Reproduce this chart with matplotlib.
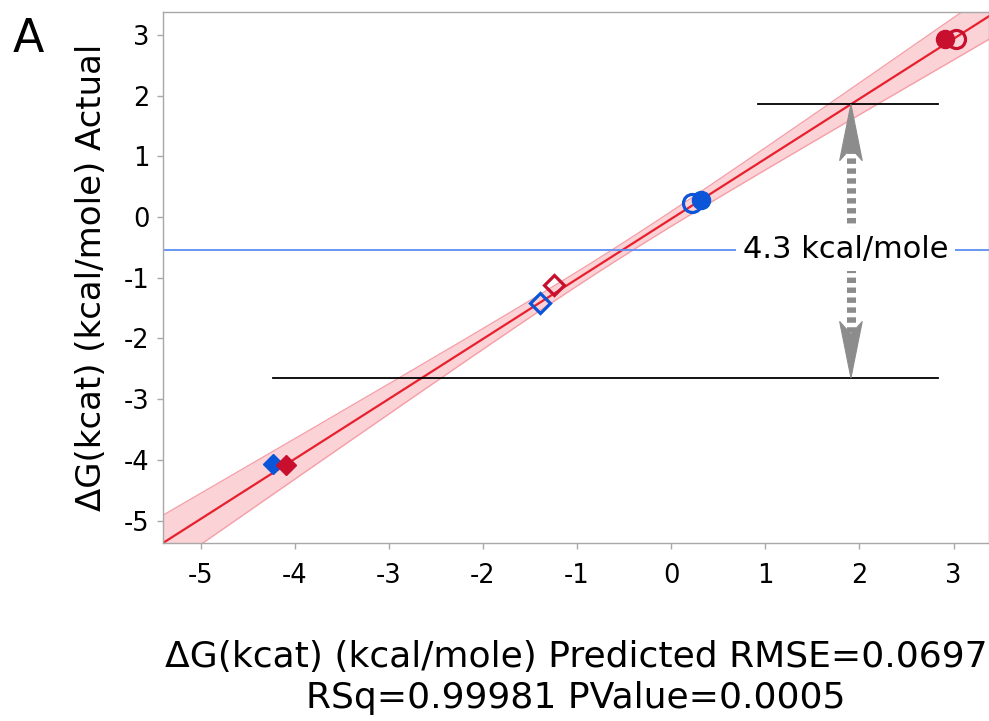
import matplotlib
matplotlib.use('Agg')
import matplotlib.pyplot as plt
import numpy as np

plt.rcParams['font.family'] = ['DejaVu Sans']

# ─── Data ──────────────────────────────────────────────────────────────────
red_fill_circle_x = [2.91]
red_fill_circle_y = [2.93]
red_open_circle_x = [3.03]
red_open_circle_y = [2.93]
blue_open_circle_x = [0.22]
blue_open_circle_y = [0.23]
blue_fill_circle_x = [0.32]
blue_fill_circle_y = [0.29]
blue_open_diamond_x = [-1.39]
blue_open_diamond_y = [-1.41]
red_open_diamond_x = [-1.24]
red_open_diamond_y = [-1.12]
blue_fill_diamond_x = [-4.23]
blue_fill_diamond_y = [-4.06]
red_fill_diamond_x = [-4.09]
red_fill_diamond_y = [-4.08]

fit_slope = 0.989
fit_icept = -0.029
band_hw_center = 0.11     # half width of conf. band at its narrowest
band_hw_slope = 0.092
band_xm = -0.58

upper_ref = 1.86          # black reference lines
lower_ref = -2.65
upper_ref_x = (0.92, 2.83)
lower_ref_x = (-4.23, 2.83)
blue_ref = -0.54
arrow_x = 1.91

xticks = [-5, -4, -3, -2, -1, 0, 1, 2, 3]
yticks = [-5, -4, -3, -2, -1, 0, 1, 2, 3]

# ─── Colours ───────────────────────────────────────────────────────────────
C_RED = '#C8102E'
C_BLUE = '#0A55D8'
C_FIT = '#E8202E'
C_BAND = '#FBD3D7'
C_BAND_EDGE = '#F5A0A8'
C_REF = '#5B8DF5'
C_GRAY = '#8C8C8C'
C_SPINE = '#A8A8A8'

fig = plt.figure(figsize=(9.89, 7.21), dpi=100)
ax = fig.add_axes([163/989, 1 - 543/721, (989 - 163)/989, (543 - 12)/721])
ax.set_xlim(-5.40, 3.377)
ax.set_ylim(-5.37, 3.38)

# fit + band
xs = np.linspace(-5.5, 3.5, 200)
ys = fit_slope * xs + fit_icept
hw = np.sqrt(band_hw_center**2 + (band_hw_slope * (xs - band_xm))**2)
ax.fill_between(xs, ys - hw, ys + hw, color=C_BAND, lw=0, zorder=1)
ax.plot(xs, ys - hw, color=C_BAND_EDGE, lw=1, zorder=1)
ax.plot(xs, ys + hw, color=C_BAND_EDGE, lw=1, zorder=1)
ax.plot(xs, ys, color=C_FIT, lw=1.6, zorder=2)

# reference lines
ax.axhline(blue_ref, color=C_REF, lw=1.3, zorder=2)
ax.plot(upper_ref_x, [upper_ref, upper_ref], color='black', lw=1.3, zorder=3)
ax.plot(lower_ref_x, [lower_ref, lower_ref], color='black', lw=1.3, zorder=3)

# double arrow: dotted shaft + filled heads
head_len = 0.93
head_w = 0.12
notch = 0.72
ax.plot([arrow_x, arrow_x], [upper_ref - notch, lower_ref + notch],
        color=C_GRAY, lw=6.5, dashes=(0.6, 0.5), solid_capstyle='butt', zorder=3)
for tip, d in ((upper_ref, -1), (lower_ref, 1)):
    head = plt.Polygon([(arrow_x, tip),
                        (arrow_x + head_w, tip + d * head_len),
                        (arrow_x, tip + d * notch),
                        (arrow_x - head_w, tip + d * head_len)],
                       closed=True, fc=C_GRAY, ec=C_GRAY, lw=0.8, zorder=3)
    ax.add_patch(head)

ax.text(arrow_x - 0.06, blue_ref, '4.3 kcal/mole', ha='center', va='center',
        fontsize=22, color='black', zorder=4,
        bbox=dict(fc='white', ec='none', pad=5))

# markers
ms = 13
ax.plot(red_fill_circle_x, red_fill_circle_y, 'o', ms=ms, color=C_RED, zorder=5)
ax.plot(red_open_circle_x, red_open_circle_y, 'o', ms=ms, mfc='none',
        mec=C_RED, mew=2.3, zorder=5)
ax.plot(blue_open_circle_x, blue_open_circle_y, 'o', ms=ms, mfc='none',
        mec=C_BLUE, mew=2.3, zorder=5)
ax.plot(blue_fill_circle_x, blue_fill_circle_y, 'o', ms=ms, color=C_BLUE, zorder=5)
ax.plot(blue_open_diamond_x, blue_open_diamond_y, 'D', ms=10.5, mfc='none',
        mec=C_BLUE, mew=2.3, zorder=5)
ax.plot(red_open_diamond_x, red_open_diamond_y, 'D', ms=10.5, mfc='none',
        mec=C_RED, mew=2.3, zorder=5)
ax.plot(blue_fill_diamond_x, blue_fill_diamond_y, 'D', ms=10.5, color=C_BLUE, zorder=5)
ax.plot(red_fill_diamond_x, red_fill_diamond_y, 'D', ms=10.5, color=C_RED, zorder=5)

# axes styling
for s in ax.spines.values():
    s.set_color(C_SPINE)
    s.set_linewidth(1)
ax.set_xticks(xticks)
ax.set_yticks(yticks)
ax.set_xticklabels([str(v) for v in xticks])
ax.set_yticklabels([str(v) for v in yticks])
ax.tick_params(axis='both', length=4.5, width=1, color=C_SPINE,
               labelsize=18.5, labelcolor='black')
ax.tick_params(axis='x', pad=10)
ax.tick_params(axis='y', pad=5)

ax.set_ylabel('ΔG(kcat) (kcal/mole) Actual', fontsize=24.5)
ax.yaxis.set_label_coords(-(163 - 108) / 826, 0.5)
ax.set_xlabel('ΔG(kcat) (kcal/mole) Predicted RMSE=0.0697\nRSq=0.99981 PValue=0.0005',
              fontsize=26, linespacing=1.26)
ax.xaxis.set_label_coords(0.5, -(640 - 543) / 531)

fig.text(28 / 989, 1 - 40 / 721, 'A', fontsize=33, ha='center', va='center')

fig.savefig('out.png', dpi=100)
